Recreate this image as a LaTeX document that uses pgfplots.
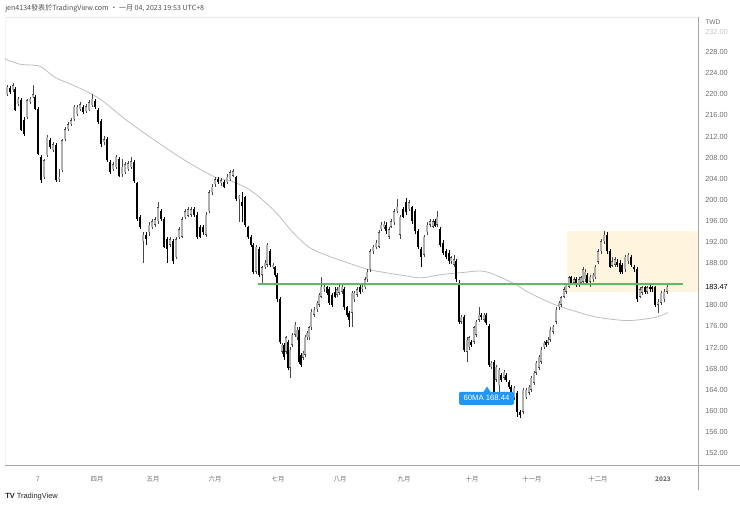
\documentclass[border=0pt]{standalone}
\usepackage{pgfplots}
\pgfplotsset{compat=1.18}
\usepackage{pgfplotstable}
\usepackage{fontspec}
\setmainfont{Liberation Sans}
\newfontfamily\cjk{Noto Sans CJK TC}
\definecolor{tvgreen}{RGB}{95,185,98}
\definecolor{tvblue}{RGB}{33,150,243}
\definecolor{beige}{RGB}{255,244,222}
\definecolor{magray}{RGB}{190,190,190}
\definecolor{upline}{RGB}{70,70,70}
\definecolor{upfill}{RGB}{175,175,175}
\definecolor{labgray}{RGB}{110,110,110}
\definecolor{hdrgray}{RGB}{80,80,80}

\pgfplotstableread{
x o h l c
7 220.0 221.7 219.6 221.4
10 221.2 221.5 220.0 220.4
13 220.8 222.1 220.4 221.7
15 221.0 221.4 216.8 217.0
18 218.1 219.5 217.7 219.1
21 218.9 219.3 213.0 213.2
24 215.1 215.6 212.0 212.4
27 215.6 219.1 215.3 218.9
30 218.5 219.5 218.1 219.1
33 219.5 221.7 219.3 220.0
35 219.5 219.8 217.0 217.2
38 217.2 217.6 208.4 208.6
41 208.1 208.4 203.1 203.7
44 204.3 207.7 203.9 207.5
47 208.4 212.2 208.1 211.9
50 211.3 211.7 209.6 210.0
53 209.4 210.9 209.0 210.5
56 210.3 210.7 203.3 203.7
59 203.9 205.8 203.3 204.4
62 205.6 211.5 205.2 211.3
65 211.5 213.8 211.1 213.4
68 213.4 214.7 213.0 214.3
71 214.3 215.5 213.9 215.1
74 215.3 217.9 214.9 217.6
77 216.2 217.9 215.8 217.6
80 217.2 218.5 216.8 218.1
83 217.6 217.9 216.2 216.6
86 216.8 218.1 216.4 217.7
89 217.0 218.9 216.8 218.5
92 217.9 220.0 217.6 219.1
95 218.7 219.1 217.2 217.6
98 217.0 217.4 214.3 214.7
101 214.9 215.3 210.1 210.5
104 210.9 212.0 210.3 211.5
107 211.5 211.9 207.1 207.5
110 207.1 207.5 204.8 205.2
113 205.8 207.1 205.4 206.7
116 206.2 208.4 205.8 208.1
119 207.7 208.1 204.3 204.6
122 204.8 207.7 204.4 206.2
125 205.2 207.1 204.8 206.7
128 205.8 207.3 205.4 206.9
131 206.2 208.1 205.8 207.3
134 207.1 207.5 203.1 203.5
137 203.1 203.3 195.9 196.3
140 196.7 197.2 194.4 194.8
143 192.1 193.8 188.1 193.4
146 193.4 193.8 191.5 192.5
149 193.8 195.7 193.2 195.3
152 194.8 196.3 194.4 195.9
155 195.3 196.7 194.9 196.3
158 195.9 199.5 195.5 198.6
161 197.8 198.2 195.9 196.3
164 196.3 196.7 190.8 191.1
167 192.5 192.9 188.1 190.6
170 191.5 192.9 191.0 192.5
173 192.1 192.5 187.9 188.3
176 189.1 192.9 188.7 192.5
179 192.9 194.8 192.5 194.4
182 193.0 196.7 192.7 196.3
185 196.7 198.2 196.3 197.8
188 197.0 198.7 196.7 198.2
191 197.2 198.6 196.8 198.2
194 198.2 198.6 196.8 197.2
197 197.2 197.6 192.5 192.9
200 194.9 195.3 192.7 193.0
203 194.9 195.3 193.4 193.8
206 193.4 197.6 193.0 197.2
209 197.8 201.8 197.4 201.4
212 201.4 202.9 201.0 202.5
215 202.9 204.3 202.5 203.9
218 203.9 204.3 202.9 203.3
221 203.1 204.1 202.7 203.7
224 203.3 203.7 202.2 202.5
227 203.3 204.8 202.9 204.4
230 203.9 205.6 203.5 205.2
233 204.6 205.8 204.3 205.4
236 204.3 204.6 199.7 200.1
239 200.1 201.0 195.7 200.8
242 199.5 201.4 195.7 198.9
245 200.5 200.8 194.9 195.3
248 194.8 195.1 192.5 192.9
251 192.9 193.4 191.0 191.5
253 191.5 191.9 186.0 186.4
256 186.4 191.5 186.0 191.1
259 190.6 191.0 185.4 185.8
262 185.8 187.5 184.3 187.2
265 187.2 188.5 186.8 188.1
267 187.7 191.9 187.3 191.5
270 190.2 190.6 187.3 187.7
273 187.2 188.1 186.8 187.7
275 187.2 187.5 185.4 185.8
277 185.8 186.2 180.7 181.1
280 181.1 181.5 172.7 173.1
282 171.2 172.9 170.8 172.5
284 172.5 172.9 169.7 170.1
286 171.2 174.2 170.8 173.9
288 173.1 173.5 167.8 168.2
290 168.2 172.0 166.3 171.6
292 172.5 174.8 172.1 174.4
295 174.4 176.9 174.0 176.3
297 173.9 175.8 173.5 175.4
299 175.4 175.8 168.9 169.3
301 170.6 171.0 168.3 168.7
303 170.1 171.4 169.7 171.0
305 170.6 174.4 170.2 174.0
307 173.9 175.2 173.5 174.8
309 173.9 176.1 173.5 175.8
311 175.8 179.2 175.4 178.8
314 178.2 179.6 177.8 179.2
317 179.2 180.9 178.8 180.5
319 180.1 182.4 179.7 182.0
321 181.6 185.4 181.3 183.5
324 183.0 183.9 182.6 183.5
327 183.4 183.7 182.0 182.4
329 183.0 183.4 180.1 180.5
332 182.0 182.4 179.7 180.1
335 182.6 183.5 181.3 181.6
337 182.0 183.4 181.6 183.0
339 182.4 183.9 182.0 183.5
342 182.6 183.9 182.2 183.5
344 183.0 183.4 179.2 179.6
347 179.6 179.9 177.8 178.2
349 178.6 179.0 175.8 177.3
352 178.6 182.8 175.9 182.4
354 181.1 182.8 180.7 182.4
357 182.0 183.4 181.6 183.0
360 183.5 183.9 182.2 182.6
362 183.0 183.9 182.6 183.5
365 183.4 185.3 183.0 184.9
367 184.9 186.8 184.5 186.4
370 186.8 190.6 186.4 190.2
373 190.2 191.5 189.8 191.1
376 191.0 192.3 190.6 191.9
379 191.1 194.2 190.8 193.8
381 194.4 195.7 194.0 195.3
384 194.8 195.9 194.4 195.5
386 195.3 195.7 193.6 194.0
389 193.0 194.8 192.5 194.4
391 194.9 196.3 194.6 195.9
394 195.7 198.2 195.3 197.8
397 197.8 200.1 197.4 198.7
400 193.4 197.2 192.5 196.8
403 198.2 198.6 196.5 196.8
406 199.5 200.3 197.2 197.6
409 198.2 199.9 197.8 199.5
412 198.6 198.9 195.5 195.9
415 197.8 198.2 193.6 194.0
418 194.0 194.4 190.6 191.0
421 190.6 191.0 187.3 189.2
424 189.6 193.4 189.2 193.0
427 193.8 195.7 193.4 195.3
430 195.3 196.3 194.9 195.9
433 194.9 196.3 194.6 195.9
435 195.9 196.3 194.8 195.1
437 195.3 197.8 194.9 196.8
440 194.4 194.8 191.1 191.5
443 191.9 192.3 189.6 190.0
446 190.2 190.6 188.7 189.1
449 190.0 190.4 187.9 188.3
451 188.3 189.4 187.9 189.1
454 187.7 189.6 187.3 188.7
456 188.3 188.7 184.5 184.9
459 184.3 184.7 176.5 176.9
461 176.9 178.2 176.5 177.8
464 177.8 178.2 171.2 171.6
467 171.2 173.9 169.3 173.5
469 172.0 174.2 171.6 173.9
471 173.1 173.5 172.1 172.5
474 173.1 176.1 172.7 175.8
476 174.4 177.3 174.0 176.9
479 177.3 179.7 176.9 178.2
481 178.2 178.6 177.3 177.7
484 177.3 178.6 176.9 178.2
486 178.2 178.6 176.3 176.7
489 176.1 176.5 168.3 168.7
491 168.3 169.5 168.0 169.1
494 169.3 169.7 162.6 163.0
496 165.9 168.7 165.5 168.3
499 164.9 168.2 163.0 167.8
501 166.8 167.2 165.5 165.9
504 166.3 167.8 165.9 167.4
506 166.8 167.2 165.5 165.9
509 165.5 165.9 164.2 164.5
511 164.5 164.9 163.0 163.4
514 162.5 164.7 162.1 164.4
517 163.4 163.8 158.8 159.8
520 159.8 160.2 158.6 159.2
523 159.8 164.4 159.4 164.0
526 162.6 164.4 162.3 164.0
529 163.4 164.9 163.0 164.5
531 164.0 166.6 163.6 166.3
534 165.3 167.6 164.9 167.2
536 167.2 169.5 166.8 169.1
539 168.2 170.6 167.8 170.2
541 169.3 172.0 168.9 171.6
544 172.1 173.3 171.8 172.9
546 173.1 173.5 172.1 172.5
548 172.9 173.9 172.5 173.5
550 173.5 175.8 173.1 175.4
553 175.0 176.3 174.6 175.9
556 176.9 179.6 176.5 179.2
559 179.6 180.9 179.2 180.5
561 180.1 181.8 179.7 181.5
564 181.6 183.4 181.3 183.0
566 182.6 184.3 182.2 183.9
569 183.5 185.6 183.2 185.3
571 185.3 185.6 183.9 184.3
574 184.3 185.3 183.9 184.9
576 184.9 185.3 183.4 183.9
579 183.9 185.3 183.5 184.9
581 184.3 185.6 183.9 185.3
583 184.5 187.2 184.1 186.8
585 184.9 186.8 184.5 186.4
587 185.8 186.2 183.9 184.3
590 184.5 185.8 183.4 185.4
593 184.9 186.2 184.5 185.8
595 185.3 187.7 184.9 187.3
598 188.3 190.6 187.9 190.2
601 190.2 192.5 189.8 192.1
604 192.1 194.0 191.7 193.4
607 193.4 193.8 189.8 190.2
610 190.2 190.6 187.0 187.3
612 187.5 189.1 187.2 188.3
615 187.7 189.1 187.3 188.7
617 188.3 188.7 187.3 187.7
620 188.1 188.5 186.0 186.4
622 187.7 188.1 186.0 186.4
625 186.8 189.6 186.4 189.2
628 188.3 190.0 187.9 189.6
631 189.2 189.6 187.3 187.7
634 187.3 187.7 186.4 186.8
637 186.8 187.2 180.7 181.1
640 181.6 183.4 181.3 183.0
642 182.4 183.7 182.0 183.4
645 183.4 183.7 182.2 182.6
647 182.6 183.7 182.2 183.4
650 183.5 183.9 182.6 183.0
652 183.4 183.7 182.6 183.0
655 183.4 183.7 179.7 180.1
658 180.1 181.1 178.6 180.7
661 180.5 182.8 180.1 182.4
664 181.1 183.0 180.7 182.6
667 182.6 184.3 182.2 183.47
}\candles

\begin{document}
\begin{tikzpicture}
\useasboundingbox (0,0) rectangle (555pt,-381pt);
% frame lines
\draw[gray!18, line width=0.5pt] (3.75pt,-12.75pt) -- (523.5pt,-12.75pt);
\draw[gray!10, line width=0.5pt] (3.75pt,-12.75pt) -- (3.75pt,-348.75pt);
\begin{axis}[
  at={(3.75pt,-12.75pt)}, anchor=north west,
  width=519.75pt, height=336pt, scale only axis,
  xmin=5, xmax=698, ymin=149.72, ymax=234.65,
  axis line style={draw=none},
  major tick length=0pt, tick style={draw=none},
  yticklabel pos=right,
  ytick={152,156,160,164,168,172,176,180,188,192,196,200,204,208,212,216,220,224,228},
  yticklabels={152.00,156.00,160.00,164.00,168.00,172.00,176.00,180.00,188.00,192.00,196.00,200.00,204.00,208.00,212.00,216.00,220.00,224.00,228.00},
  extra y ticks={183.47}, extra y tick labels={183.47},
  extra y tick style={yticklabel style={text=black}},
  yticklabel style={font=\fontsize{5.5}{6}\selectfont, text=labgray, anchor=west, inner sep=0pt, xshift=5.25pt},
  xtick={38,97,153,215,278,340,404,472,532,598,663},
  xticklabels={7,四月,五月,六月,七月,八月,九月,十月,十一月,十二月,\textbf{2023}},
  xticklabel style={font=\cjk\fontsize{4.8}{6}\selectfont, text=labgray, anchor=center, inner sep=0pt, yshift=-10.5pt},
  clip=true,
]
\fill[beige] (axis cs:567,193.99) rectangle (axis cs:698,182.59);
\addplot[magray, line width=0.6pt, smooth, tension=0.5, forget plot] coordinates {
(5,226.7) (20,225.7) (40,225.3) (55,223.2) (77,221.4) (100,219.1) (125,215.3) (150,211.9) (183,207.7) (215,204.3) (232,203.5) (252,201.6) (275,197.8) (292,194.0) (309,191.0) (329,189.3) (350,187.9) (368,186.8) (385,186.2) (405,185.6) (421,185.2) (441,185.8) (462,186.2) (485,186.4) (512,184.3) (529,182.4) (555,180.1) (580,178.6) (598,177.7) (628,177.1) (655,177.7) (668,178.6)};
% down candles: wicks and bodies
\addplot[draw=none, mark=none, forget plot,
  restrict expr to domain={\thisrow{c}-\thisrow{o}}{-1000:0},
  error bars/.cd, y dir=both, y explicit, error mark=none,
  error bar style={draw=black, solid, line width=0.5pt}]
  table[x=x, y expr={(\thisrow{h}+\thisrow{l})/2}, y error expr={(\thisrow{h}-\thisrow{l})/2}] {\candles};
\addplot[draw=none, mark=none, forget plot,
  restrict expr to domain={\thisrow{c}-\thisrow{o}}{-1000:0},
  error bars/.cd, y dir=both, y explicit, error mark=none,
  error bar style={draw=black, solid, line width=2.0pt}]
  table[x=x, y expr={(\thisrow{o}+\thisrow{c})/2}, y error expr={abs(\thisrow{o}-\thisrow{c})/2}] {\candles};
% up candles
\addplot[draw=none, mark=none, forget plot,
  restrict expr to domain={\thisrow{c}-\thisrow{o}}{0.0001:1000},
  error bars/.cd, y dir=both, y explicit, error mark=none,
  error bar style={draw=upline, solid, line width=0.5pt}]
  table[x=x, y expr={(\thisrow{h}+\thisrow{l})/2}, y error expr={(\thisrow{h}-\thisrow{l})/2}] {\candles};
\addplot[draw=none, mark=none, forget plot,
  restrict expr to domain={\thisrow{c}-\thisrow{o}}{0.0001:1000},
  error bars/.cd, y dir=both, y explicit, error mark=none,
  error bar style={draw=upline, solid, line width=2.2pt}]
  table[x=x, y expr={(\thisrow{o}+\thisrow{c})/2}, y error expr={abs(\thisrow{o}-\thisrow{c})/2}] {\candles};
\addplot[draw=none, mark=none, forget plot,
  restrict expr to domain={\thisrow{c}-\thisrow{o}}{0.0001:1000},
  error bars/.cd, y dir=both, y explicit, error mark=none,
  error bar style={draw=upfill, solid, line width=0.8pt}]
  table[x=x, y expr={(\thisrow{o}+\thisrow{c})/2}, y error expr={max(abs(\thisrow{o}-\thisrow{c})/2-0.08,0)}] {\candles};
% green horizontal line
\addplot[tvgreen, line width=1.5pt, forget plot] coordinates {(258,183.95) (683,183.95)};
% 60MA callout
\fill[tvblue] (axis cs:483.5,163.6) -- (axis cs:487,164.6) -- (axis cs:490.5,163.6) -- cycle;
\node[fill=tvblue, text=white, rounded corners=1pt, minimum width=41.25pt, minimum height=9.75pt, inner sep=0pt, font=\fontsize{5.8}{6}\selectfont] at (axis cs:486.5,162.36) {60MA 168.44};
\end{axis}
% axis lines
\draw[gray!70, line width=0.5pt] (3.75pt,-348.75pt) -- (555pt,-348.75pt);
\draw[gray!70, line width=0.5pt] (523.5pt,-12.75pt) -- (523.5pt,-367.5pt);
% top of price scale
\node[anchor=west, inner sep=0pt, text=gray!45, font=\fontsize{5.5}{6}\selectfont] at (528.75pt,-23.9pt) {232.00};
\fill[white] (524pt,-12.9pt) rectangle (555pt,-21.6pt);
\node[anchor=west, inner sep=0pt, text=labgray, font=\fontsize{5}{6}\selectfont] at (528.75pt,-16.5pt) {TWD};
% header
\node[anchor=west, inner sep=0pt, text=hdrgray, font=\cjk\fontsize{5.3}{6}\selectfont] at (3.75pt,-6pt) {jen4134發表於TradingView.com · 一月 04, 2023 19:53 UTC+8};
% logo
\node[anchor=west, inner sep=0pt, text=black!85, font=\fontsize{5.6}{6}\selectfont] at (3.75pt,-372.75pt) {\textbf{TV}\hspace{1.5pt}TradingView};
\end{tikzpicture}
\end{document}
